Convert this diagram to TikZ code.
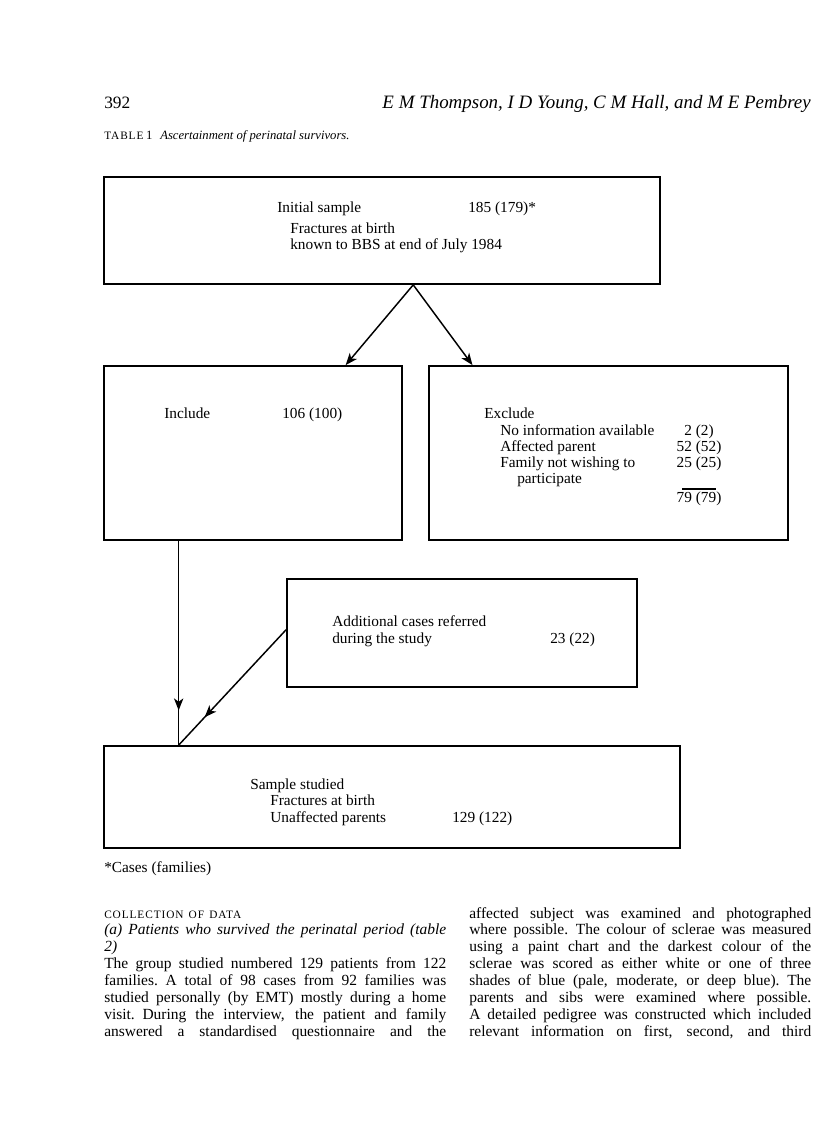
\documentclass[tikz,border=0pt]{standalone}
\usepackage{fontspec}
\setmainfont{Liberation Serif}
\usetikzlibrary{arrows.meta,positioning,calc,fit,decorations.markings}
\newlength{\colw}
\setlength{\colw}{256.5pt}
\tikzset{
  panel/.style={draw,line width=1.3pt,inner sep=0pt,fit={#1}},
  txt/.style={anchor=base west,inner sep=0pt,font=\fontsize{11.5}{13}\selectfont},
  num/.style={txt,anchor=base},
  arr/.style={-{Stealth[length=9pt,width=7pt,inset=2.5pt]},line width=1.1pt},
  midarr/.style={line width=1.1pt,postaction={decorate},
    decoration={markings,mark=at position #1 with {\arrow{Stealth[length=9pt,width=7pt,inset=2.5pt]}}}},
  column/.style={anchor=base west,inner sep=0pt,text width=\colw,align=left,font=\fontsize{11.6}{12.7}\selectfont},
}
% one justified line of a text column
\newcommand{\jline}[1]{\leavevmode{\spaceskip=0.25em plus 1em minus 0.12em\relax\hbox to \colw{#1}}}
\newcommand{\smc}[1]{{\fontsize{8.5}{12.7}\selectfont\addfontfeature{LetterSpace=8}#1}}

\begin{document}
\begin{tikzpicture}[x=0.75pt,y=-0.75pt]
  \useasboundingbox (0,0) rectangle (816,1142);
  % running head and table title
  \node[txt,font=\fontsize{13}{15}\selectfont] (pgno) at (104,108) {392};
  \node[txt,anchor=base east,font=\fontsize{14.2}{16}\itshape] (authors) at (811,108) {E M Thompson, I D Young, C M Hall, and M E Pembrey};
  \node[txt] (tabno) at (104,139) {\smc{TABLE}\,\fontsize{9.5}{11}\selectfont 1};
  \node[txt,font=\fontsize{9.5}{11}\itshape] (captxt) at (160,139) {Ascertainment of perinatal survivors.};
  % boxes
  \node[panel={(104,177) (660,284)}] (top) {};
  \node[panel={(104,366) (402,540)}] (inc) {};
  \node[panel={(429,366) (788,540)}] (exc) {};
  \node[panel={(287,579) (637,687)}] (add) {};
  \node[panel={(104,746) (680,848)}] (bot) {};
  % initial sample
  \node[txt] (initlbl) at (277,212) {Initial sample};
  \node[txt] (initnum) at (468,212) {185 (179)*};
  \node[txt] (initfr) at (290,233) {Fractures at birth};
  \node[txt] (initbbs) at (290,249) {known to BBS at end of July 1984};
  % include / exclude
  \node[txt] (inclbl) at (164,418) {Include};
  \node[txt] (incnum) at (282,418) {106 (100)};
  \node[txt] (exclbl) at (484,418) {Exclude};
  \node[txt] (exnoinf) at (500,435) {No information available};
  \node[txt] (exaff) at (500,451) {Affected parent};
  \node[txt] (exfam) at (500,467) {Family not wishing to};
  \node[txt] (expart) at (517,483) {participate};
  \node[num] (nnoinf) at (699,435) {2 (2)};
  \node[num] (naff) at (699,451) {52 (52)};
  \node[num] (nfam) at (699,467) {25 (25)};
  \draw[line width=0.8pt] (682,489) -- (716,489);
  \node[num] (nexc) at (699,502) {79 (79)};
  % additional cases
  \node[txt] (addlbl) at (332,626) {Additional cases referred};
  \node[txt] (adddur) at (332,643) {during the study};
  \node[txt] (addnum) at (550,643) {23 (22)};
  % sample studied
  \node[txt] (botlbl) at (250,789) {Sample studied};
  \node[txt] (botfr) at (270,805) {Fractures at birth};
  \node[txt] (botun) at (270,822) {Unaffected parents};
  \node[txt] (botnum) at (452,822) {129 (122)};
  \node[txt] (foot) at (104,872) {*Cases (families)};
  % connectors
  \coordinate (apex) at ($(top.south west)!0.556!(top.south east)$);
  \draw[arr] (apex) -- ($(inc.north west)!0.809!(inc.north east)$);
  \draw[arr] (apex) -- ($(exc.north west)!0.123!(exc.north east)$);
  \coordinate (drop) at ($(inc.south west)!0.252!(inc.south east)$);
  \draw[midarr=0.83] (drop) -- (drop |- bot.north) coordinate (join);
  \draw[midarr=0.76] ($(add.north west)!0.47!(add.south west)$) -- (join);
  % body text
  \node[column] (leftcol) at (104,918) {%
    \smc{COLLECTION OF DATA}\\
    \jline{\itshape (a) Patients who survived the perinatal period (table}\\
    {\itshape 2)}\\
    \jline{The group studied numbered 129 patients from 122}\\
    \jline{families. A total of 98 cases from 92 families was}\\
    \jline{studied personally (by EMT) mostly during a home}\\
    \jline{visit. During the interview, the patient and family}\\
    \jline{answered a standardised questionnaire and the}};
  \node[column] (rightcol) at (469,918) {%
    \jline{affected subject was examined and photographed}\\
    \jline{where possible. The colour of sclerae was measured}\\
    \jline{using a paint chart and the darkest colour of the}\\
    \jline{sclerae was scored as either white or one of three}\\
    \jline{shades of blue (pale, moderate, or deep blue). The}\\
    \jline{parents and sibs were examined where possible.}\\
    \jline{A detailed pedigree was constructed which included}\\
    \jline{relevant information on first, second, and third}};
\end{tikzpicture}
\end{document}
